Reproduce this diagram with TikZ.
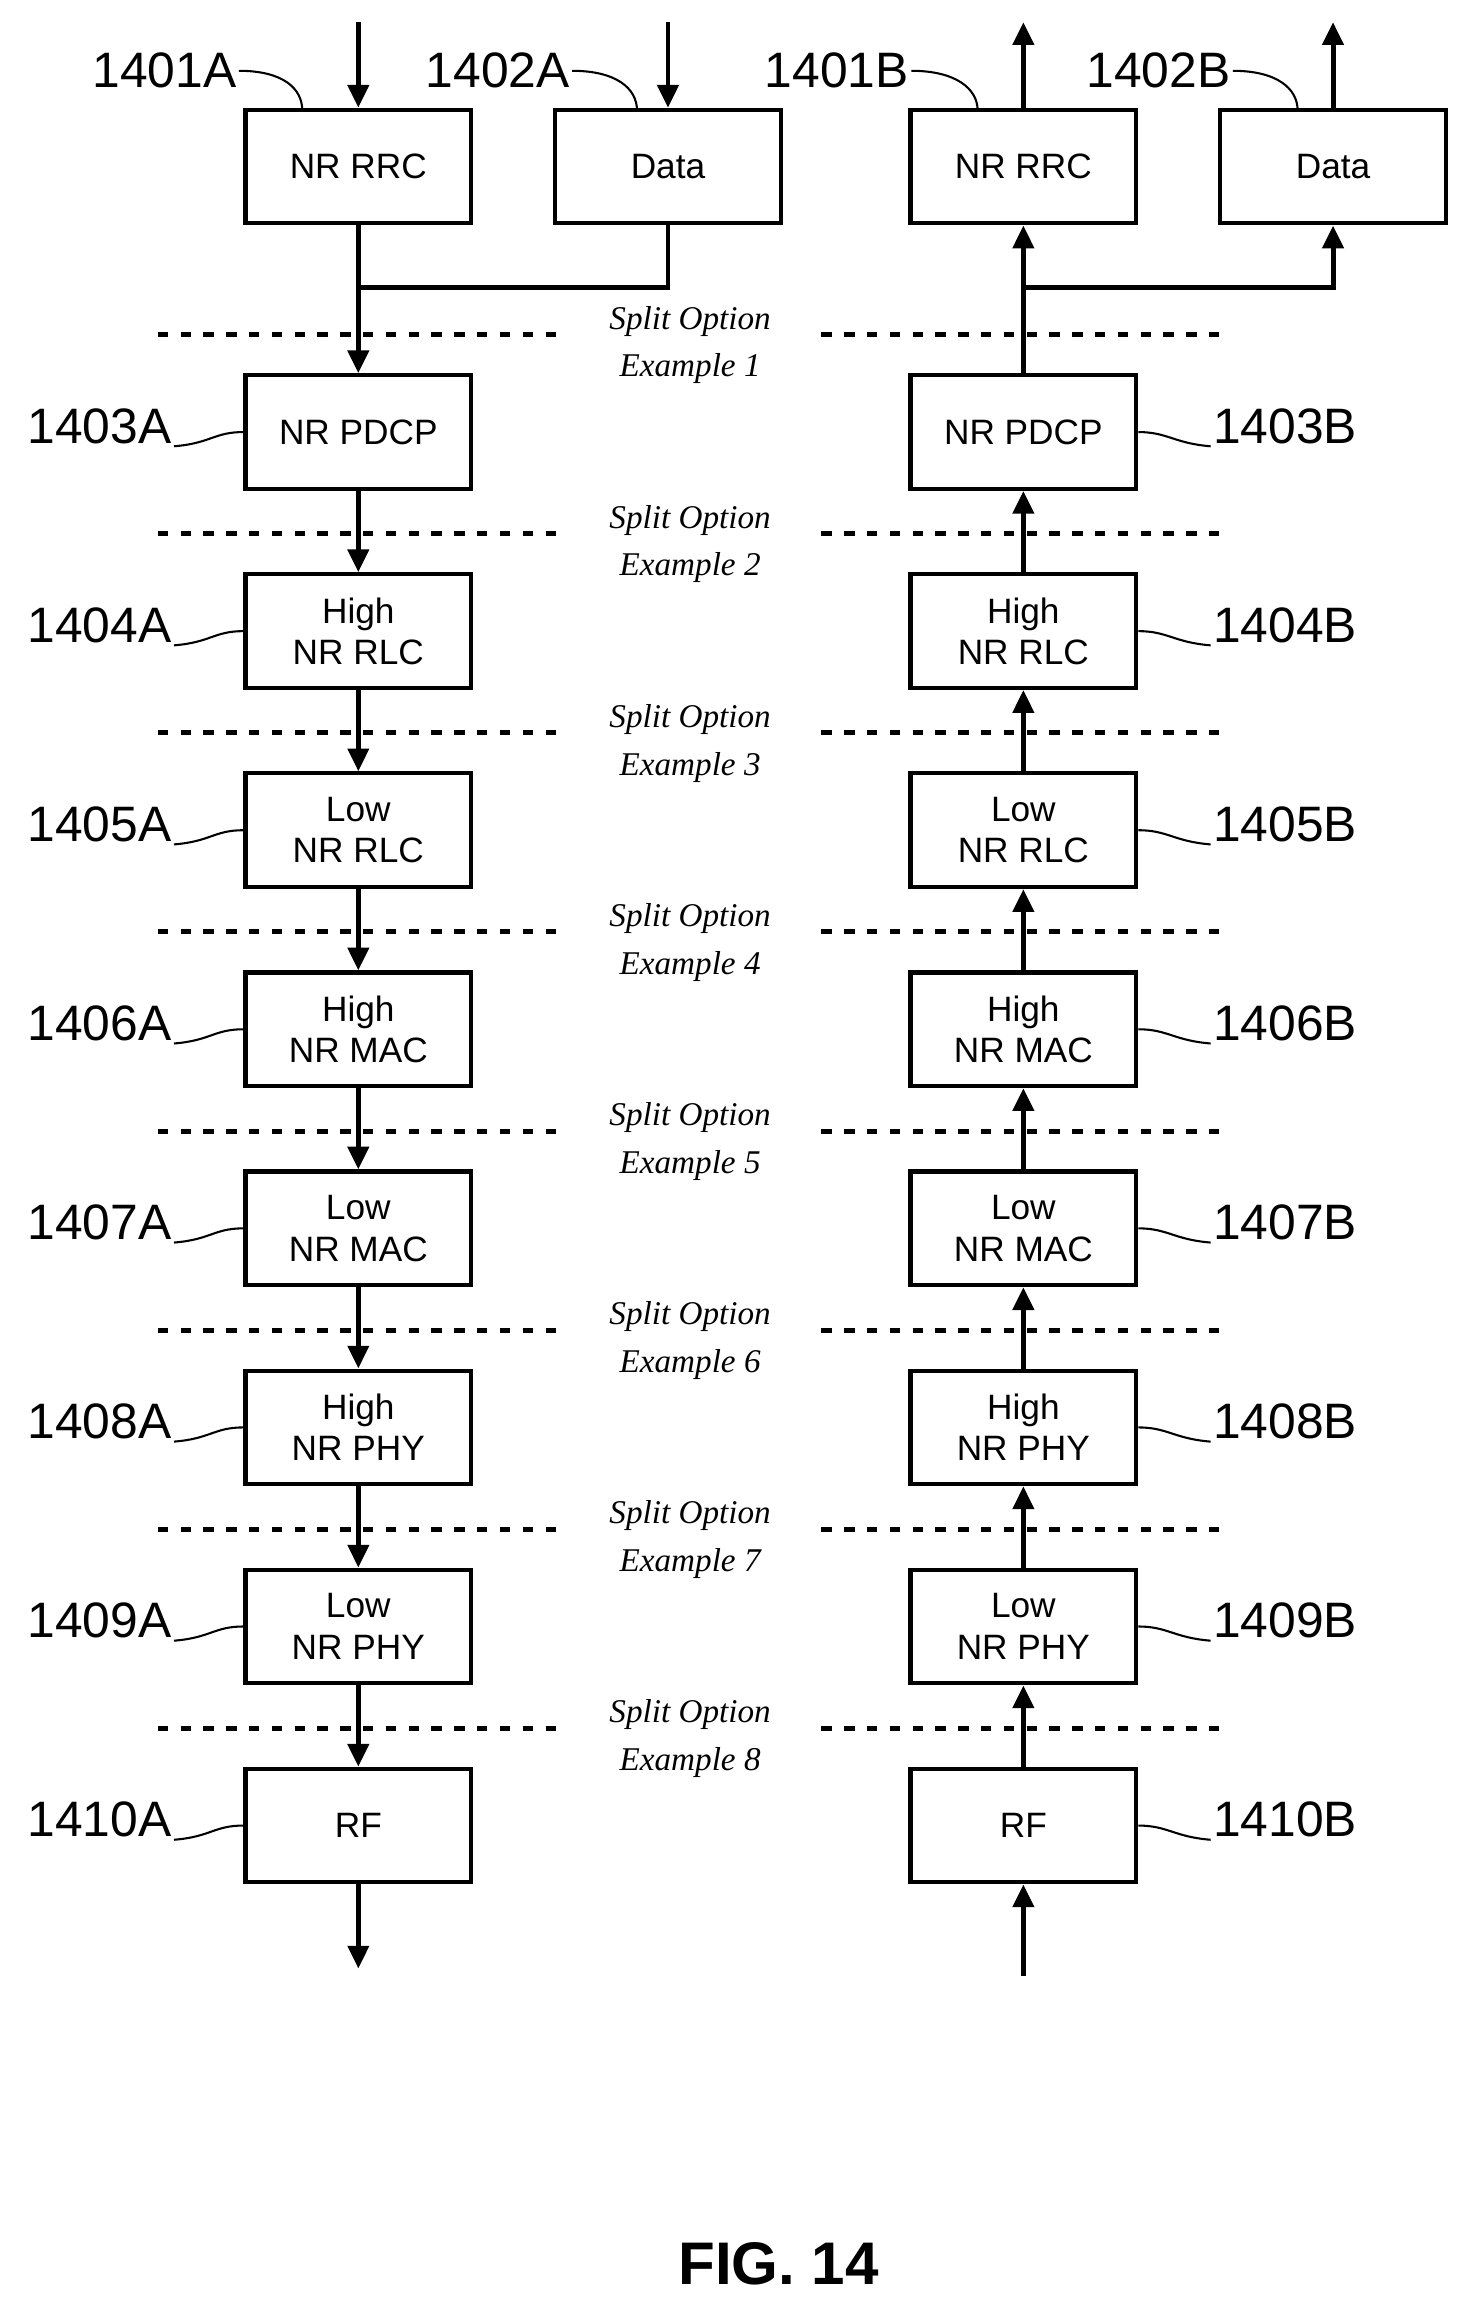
\documentclass[tikz,border=0pt]{standalone}
\usepackage{fontspec}
\setmainfont{Liberation Sans}
\newfontfamily\splitfont{Liberation Serif}
\usetikzlibrary{arrows.meta, positioning}
\begin{document}
\begin{tikzpicture}[x=0.025cm, y=-0.025cm, >={Triangle[length=11pt,width=10pt]}]
	\tikzstyle{block} = [draw=black, line width=2pt, rectangle, minimum width=3.825cm, minimum height=1.925cm, align=center, font=\fontsize{17}{20}\selectfont, inner sep=0pt]
	\tikzstyle{arrow} = [line width=2.4pt, ->]
	\tikzstyle{flow} = [line width=2.4pt]
	\tikzstyle{ref} = [font=\fontsize{24}{26}\selectfont, inner sep=1pt]
	\tikzstyle{lead} = [line width=1pt]
	\tikzstyle{cut} = [line width=2.4pt, dash pattern=on 5pt off 6pt]
	\tikzstyle{splittext} = [font=\splitfont\itshape\fontsize{16}{23}\selectfont, align=center]

	\useasboundingbox (0,0) rectangle (1000,1574);

	% top blocks
	\node[block] at (243, 113) (rrcA) {NR RRC};
	\node[block] at (453, 113) (dataA) {Data};
	\node[block] at (694, 113) (rrcB) {NR RRC};
	\node[block] at (904, 113) (dataB) {Data};

	% stacked blocks
	\foreach \i/\txt/\y in {3/NR PDCP/293, 4/High\\NR RLC/428, 5/Low\\NR RLC/563, 6/High\\NR MAC/698, 7/Low\\NR MAC/833, 8/High\\NR PHY/968, 9/Low\\NR PHY/1103, 10/RF/1238} {
		\node[block] at (243, \y) (a\i) {\txt};
		\node[block] at (694, \y) (b\i) {\txt};
		\node[ref, anchor=east] at (118, \y-4) (la\i) {14\ifnum\i<10 0\fi\i A};
		\node[ref, anchor=west] at (821, \y-4) (lb\i) {14\ifnum\i<10 0\fi\i B};
		\draw[lead] (la\i.south east) .. controls +(25,-2) and +(-20,0) .. (a\i.west);
		\draw[lead] (lb\i.south west) .. controls +(-25,-2) and +(20,0) .. (b\i.east);
	}

	% split lines
	\foreach \k/\y in {1/227, 2/362, 3/497, 4/632, 5/767, 6/902, 7/1037, 8/1172} {
		\draw[cut] (107, \y) -- (380, \y);
		\draw[cut] (557, \y) -- (830, \y);
		\node[splittext] at (468, \y+7) (s\k) {Split Option\\Example \k};
	}

	% top references
	\node[ref, anchor=east] at (162, 48) (l1A) {1401A};
	\node[ref, anchor=east] at (388, 48) (l2A) {1402A};
	\node[ref, anchor=east] at (618, 48) (l1B) {1401B};
	\node[ref, anchor=east] at (836, 48) (l2B) {1402B};
	\coordinate (t1A) at (205, 75);
	\coordinate (t2A) at (432, 75);
	\coordinate (t1B) at (663, 75);
	\coordinate (t2B) at (880, 75);
	\draw[lead] (l1A.east) .. controls +(30,0) and +(0,-15) .. (t1A);
	\draw[lead] (l2A.east) .. controls +(30,0) and +(0,-15) .. (t2A);
	\draw[lead] (l1B.east) .. controls +(30,0) and +(0,-15) .. (t1B);
	\draw[lead] (l2B.east) .. controls +(30,0) and +(0,-15) .. (t2B);

	% in / out arrows
	\coordinate (inA) at (243, 15);
	\coordinate (inD) at (453, 15);
	\coordinate (outB) at (694, 15);
	\coordinate (outD) at (904, 15);
	\coordinate (endA) at (243, 1335);
	\coordinate (startB) at (694, 1340);
	\coordinate (joinA) at (243, 195);
	\coordinate (joinB) at (694, 195);
	\draw[arrow] (inA) -- (rrcA);
	\draw[arrow] (inD) -- (dataA);
	\draw[arrow] (rrcB) -- (outB);
	\draw[arrow] (dataB) -- (outD);

	% left side, downwards
	\draw[flow] (rrcA) -- (joinA);
	\draw[flow] (dataA) |- (joinA);
	\draw[arrow] (joinA) -- (a3);
	\draw[arrow] (a3) -- (a4);
	\draw[arrow] (a4) -- (a5);
	\draw[arrow] (a5) -- (a6);
	\draw[arrow] (a6) -- (a7);
	\draw[arrow] (a7) -- (a8);
	\draw[arrow] (a8) -- (a9);
	\draw[arrow] (a9) -- (a10);
	\draw[arrow] (a10) -- (endA);

	% right side, upwards
	\draw[arrow] (startB) -- (b10);
	\draw[arrow] (b10) -- (b9);
	\draw[arrow] (b9) -- (b8);
	\draw[arrow] (b8) -- (b7);
	\draw[arrow] (b7) -- (b6);
	\draw[arrow] (b6) -- (b5);
	\draw[arrow] (b5) -- (b4);
	\draw[arrow] (b4) -- (b3);
	\draw[flow] (b3) -- (joinB);
	\draw[arrow] (joinB) -- (rrcB);
	\draw[arrow] (joinB) -| (dataB);

	\node[font=\bfseries\fontsize{29}{31}\selectfont] at (528, 1535) (fig) {FIG. 14};
\end{tikzpicture}
\end{document}
